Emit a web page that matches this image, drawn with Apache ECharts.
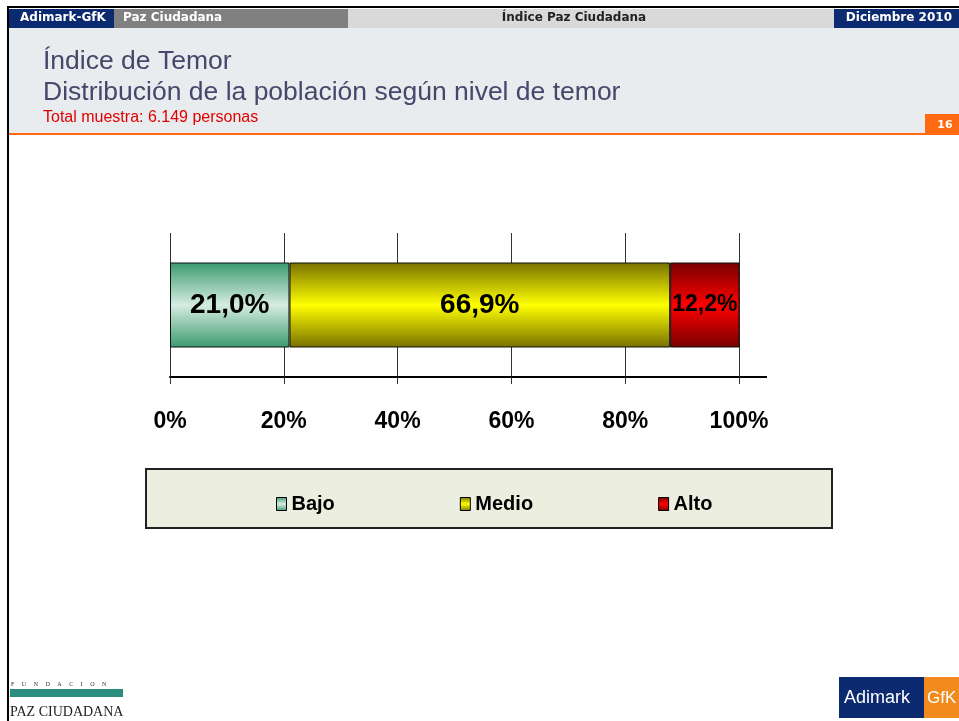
<!DOCTYPE html>
<html>
<head>
<meta charset="utf-8">
<title>Índice de Temor</title>
<script src="https://cdn.jsdelivr.net/npm/echarts@6/dist/echarts.min.js"></script>
<style>
  html, body { margin: 0; padding: 0; background: #fff; }
  #main { width: 959px; height: 721px; }
</style>
</head>
<body>
<div id="main"></div>
<script>
// datos
const categories = ['Índice de Temor'];
const seriesNames = ['Bajo', 'Medio', 'Alto'];
const bajo = [21.0];
const medio = [66.9];
const alto = [12.2];
const xTicks = [0, 20, 40, 60, 80, 100];

const NAVY = '#0b2a6f';
const SANS = '"Liberation Sans", Arial, sans-serif';
const HEAD = 'bold 12px "DejaVu Sans", sans-serif';

function grad(dark, light) {
  return new echarts.graphic.LinearGradient(0, 0, 0, 1, [
    { offset: 0, color: dark },
    { offset: 0.5, color: light },
    { offset: 1, color: dark }
  ]);
}

function pct(p) {
  return p.value.toFixed(1).replace('.', ',') + '%';
}

const chart = echarts.init(document.getElementById('main'));

const option = {
  backgroundColor: '#fff',
  animation: false,
  grid: {
    left: 170,
    right: 220,
    top: 233,
    bottom: 344
  },
  xAxis: {
    type: 'value',
    min: xTicks[0],
    max: xTicks[xTicks.length - 1],
    interval: 20,
    axisLine: { show: true, lineStyle: { color: '#000', width: 2 } },
    axisTick: { show: true, length: 7, lineStyle: { color: '#333', width: 1 } },
    splitLine: { show: true, lineStyle: { color: '#333', width: 1 } },
    axisLabel: {
      margin: 33,
      color: '#000',
      fontFamily: SANS,
      fontWeight: 'bold',
      fontSize: 23,
      formatter: '{value}%'
    }
  },
  yAxis: {
    type: 'category',
    data: categories,
    show: false
  },
  legend: {
    data: seriesNames,
    left: 271,
    top: 489,
    itemWidth: 10,
    itemHeight: 13,
    itemGap: 125,
    icon: 'rect',
    itemStyle: { borderColor: '#000', borderWidth: 1 },
    textStyle: {
      color: '#000',
      fontFamily: SANS,
      fontWeight: 'bold',
      fontSize: 20
    }
  },
  series: [
    {
      name: seriesNames[0],
      type: 'bar',
      stack: 'total',
      barWidth: 85,
      data: bajo,
      itemStyle: { color: grad('#3b9a6e', '#d6ece1'), borderColor: '#111', borderWidth: 1 },
      label: {
        show: true, position: 'inside', formatter: pct, color: '#000',
        fontFamily: SANS, fontWeight: 'bold', fontSize: 28
      }
    },
    {
      name: seriesNames[1],
      type: 'bar',
      stack: 'total',
      data: medio,
      itemStyle: { color: grad('#777100', '#ffff00'), borderColor: '#111', borderWidth: 1 },
      label: {
        show: true, position: 'inside', formatter: pct, color: '#000',
        fontFamily: SANS, fontWeight: 'bold', fontSize: 28
      }
    },
    {
      name: seriesNames[2],
      type: 'bar',
      stack: 'total',
      data: alto,
      itemStyle: { color: grad('#780000', '#ff0000'), borderColor: '#111', borderWidth: 1 },
      label: {
        show: true, position: 'inside', formatter: pct, color: '#000',
        fontFamily: SANS, fontWeight: 'bold', fontSize: 23
      }
    }
  ],
  graphic: [
    // marco
    { type: 'rect', z: -1, shape: { x: 7, y: 6, width: 952, height: 2 }, style: { fill: '#000' } },
    { type: 'rect', z: 10, shape: { x: 7, y: 6, width: 2, height: 715 }, style: { fill: '#000' } },
    // barra superior
    { type: 'rect', z: -1, shape: { x: 9, y: 9, width: 105, height: 19 }, style: { fill: NAVY } },
    { type: 'rect', z: -1, shape: { x: 114, y: 9, width: 234, height: 19 }, style: { fill: '#808080' } },
    { type: 'rect', z: -1, shape: { x: 348, y: 9, width: 486, height: 19 }, style: { fill: '#d9d9d9' } },
    { type: 'rect', z: -1, shape: { x: 834, y: 9, width: 125, height: 19 }, style: { fill: NAVY } },
    { type: 'text', x: 20, y: 18, style: { text: 'Adimark-GfK', fill: '#fff', verticalAlign: 'middle', font: HEAD } },
    { type: 'text', x: 123, y: 18, style: { text: 'Paz Ciudadana', fill: '#fff', verticalAlign: 'middle', font: HEAD } },
    { type: 'text', x: 574, y: 18, style: { text: 'Índice Paz Ciudadana', fill: '#222', align: 'center', verticalAlign: 'middle', font: HEAD } },
    { type: 'text', x: 952, y: 18, style: { text: 'Diciembre 2010', fill: '#fff', align: 'right', verticalAlign: 'middle', font: HEAD } },
    // panel de título
    { type: 'rect', z: -1, shape: { x: 9, y: 28, width: 950, height: 105 }, style: { fill: '#e9ecee' } },
    { type: 'rect', z: -1, shape: { x: 9, y: 133, width: 950, height: 2 }, style: { fill: '#ff6a13' } },
    { type: 'rect', z: -1, shape: { x: 925, y: 114, width: 34, height: 20 }, style: { fill: '#ff6a13' } },
    { type: 'text', x: 945, y: 125, style: { text: '16', fill: '#fff', align: 'center', verticalAlign: 'middle', font: 'bold 11px "DejaVu Sans", sans-serif' } },
    { type: 'text', x: 43, y: 62, style: { text: 'Índice de Temor', fill: '#45476b', verticalAlign: 'middle', font: '26.5px ' + SANS } },
    { type: 'text', x: 43, y: 93, style: { text: 'Distribución de la población según nivel de temor', fill: '#45476b', verticalAlign: 'middle', font: '26.5px ' + SANS } },
    { type: 'text', x: 43, y: 118, style: { text: 'Total muestra: 6.149 personas', fill: '#e00000', verticalAlign: 'middle', font: '16px ' + SANS } },
    // prolongación del eje
    { type: 'rect', shape: { x: 739, y: 376, width: 28, height: 2 }, style: { fill: '#000' } },
    // caja de la leyenda
    { type: 'rect', z: -1, shape: { x: 146, y: 469, width: 686, height: 59 }, style: { fill: '#ecefe0', stroke: '#222', lineWidth: 2 } },
    // logo Fundación Paz Ciudadana
    { type: 'text', x: 11, y: 684, style: { text: 'F     U     N     D     A     C     I     O     N', fill: '#333', verticalAlign: 'middle', font: '6px "Liberation Serif", serif' } },
    { type: 'rect', shape: { x: 10, y: 689, width: 113, height: 8 }, style: { fill: '#2a8c7e' } },
    { type: 'text', x: 10, y: 712, style: { text: 'PAZ CIUDADANA', fill: '#222', verticalAlign: 'middle', font: '14px "Liberation Serif", serif' } },
    // logo Adimark GfK
    { type: 'rect', shape: { x: 839, y: 677, width: 85, height: 41 }, style: { fill: NAVY } },
    { type: 'rect', shape: { x: 924, y: 677, width: 35, height: 41 }, style: { fill: '#f28a1e' } },
    { type: 'text', x: 844, y: 698, style: { text: 'Adimark', fill: '#fff', verticalAlign: 'middle', font: '18px ' + SANS } },
    { type: 'text', x: 927, y: 698, style: { text: 'GfK', fill: '#fff', verticalAlign: 'middle', font: '17px ' + SANS } }
  ]
};

chart.setOption(option);
</script>
</body>
</html>
